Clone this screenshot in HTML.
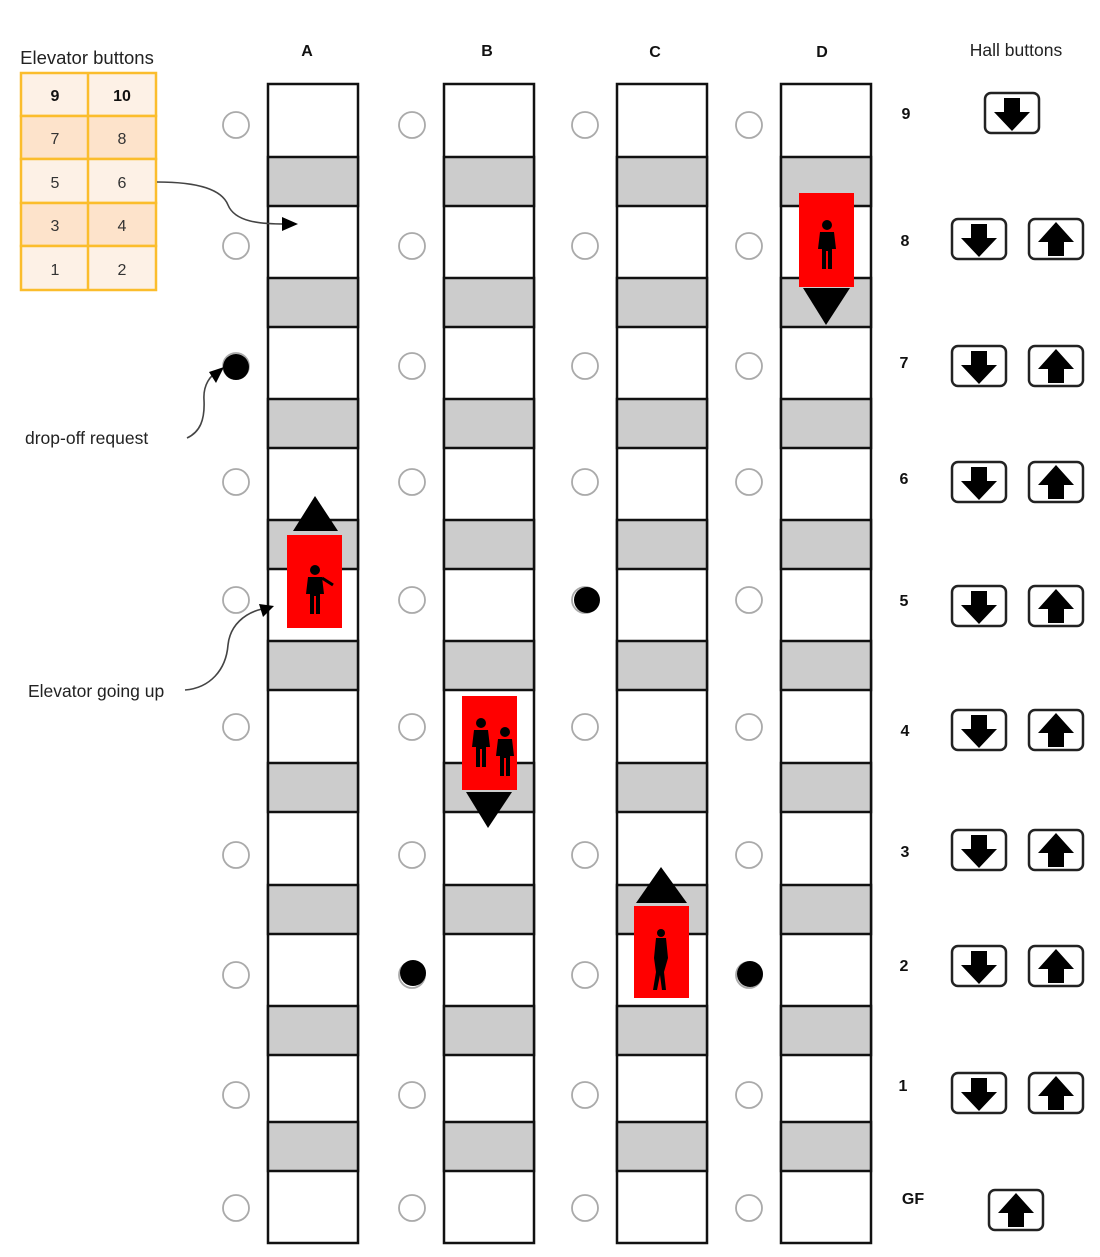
<!DOCTYPE html>
<html><head><meta charset="utf-8"><style>
html,body{margin:0;padding:0;background:#fff;}
svg{display:block;font-family:"Liberation Sans",Arial,sans-serif;}
</style></head><body>
<svg width="1100" height="1257" viewBox="0 0 1100 1257" xmlns="http://www.w3.org/2000/svg">
<defs>
  <g id="shaft">
    <rect x="0" y="84" width="90" height="1159" fill="#fff" stroke="#111" stroke-width="2.5"/>
    <g fill="#cccccc" stroke="#111" stroke-width="2.5">
      <rect x="0" y="157" width="90" height="49"/>
      <rect x="0" y="278" width="90" height="49"/>
      <rect x="0" y="399" width="90" height="49"/>
      <rect x="0" y="520" width="90" height="49"/>
      <rect x="0" y="641" width="90" height="49"/>
      <rect x="0" y="763" width="90" height="49"/>
      <rect x="0" y="885" width="90" height="49"/>
      <rect x="0" y="1006" width="90" height="49"/>
      <rect x="0" y="1122" width="90" height="49"/>
    </g>
  </g>
  <g id="circles" fill="#fff" stroke="#aaa" stroke-width="1.8">
    <circle cx="0" cy="125" r="13"/><circle cx="0" cy="246" r="13"/><circle cx="0" cy="366" r="13"/>
    <circle cx="0" cy="482" r="13"/><circle cx="0" cy="600" r="13"/><circle cx="0" cy="727" r="13"/>
    <circle cx="0" cy="855" r="13"/><circle cx="0" cy="975" r="13"/><circle cx="0" cy="1095" r="13"/>
    <circle cx="0" cy="1208" r="13"/>
  </g>
  <g id="dn">
    <rect x="-27" y="-20" width="54" height="40" rx="6" fill="#fff" stroke="#222" stroke-width="2.5"/>
    <path d="M-8,-15 H8 V-1 H18 L0,18 L-18,-1 H-8 Z" fill="#000"/>
  </g>
  <g id="up">
    <rect x="-27" y="-20" width="54" height="40" rx="6" fill="#fff" stroke="#222" stroke-width="2.5"/>
    <path d="M-8,17 H8 V3 H18 L0,-17 L-18,3 H-8 Z" fill="#000"/>
  </g>
  <g id="person" fill="#000">
    <circle cx="0" cy="-22" r="5"/>
    <path d="M-7,-15 H7 L9,2 H5 V22 H1 V4 H-1 V22 H-5 V2 H-9 Z"/>
  </g>
</defs>

<use href="#shaft" x="268"/>
<use href="#shaft" x="444"/>
<use href="#shaft" x="617"/>
<use href="#shaft" x="781"/>
<use href="#circles" x="236"/>
<use href="#circles" x="412"/>
<use href="#circles" x="585"/>
<use href="#circles" x="749"/>

<g fill="#000">
  <circle cx="236" cy="367" r="13"/>
  <circle cx="587" cy="600" r="13"/>
  <circle cx="413" cy="973" r="13"/>
  <circle cx="750" cy="974" r="13"/>
</g>

<g font-size="16" font-weight="bold" text-anchor="middle" fill="#111">
  <text x="307" y="56">A</text><text x="487" y="56">B</text>
  <text x="655" y="57">C</text><text x="822" y="57">D</text>
</g>
<text x="1016" y="56" font-size="17.5" text-anchor="middle" fill="#222">Hall buttons</text>

<rect x="287" y="535" width="55" height="93" fill="#ff0000"/>
<polygon points="315,496 338,531 293,531" fill="#000"/>
<use href="#person" x="315" y="592"/>
<path d="M322,578 L333,585" stroke="#000" stroke-width="3"/>
<rect x="462" y="696" width="55" height="94" fill="#ff0000"/>
<polygon points="466,792 512,792 488,828" fill="#000"/>
<use href="#person" x="481" y="745"/>
<use href="#person" x="505" y="754"/>
<rect x="634" y="906" width="55" height="92" fill="#ff0000"/>
<polygon points="661,867 687,903 636,903" fill="#000"/>
<g fill="#000"><circle cx="661" cy="933" r="4"/><path d="M656,938 H666 L668,958 L664,972 L666,990 H662 L660,975 L657,990 H653 L656,972 L654,958 Z"/></g>
<rect x="799" y="193" width="55" height="94" fill="#ff0000"/>
<polygon points="803,288 850,288 826,325" fill="#000"/>
<use href="#person" x="827" y="247"/>

<g font-size="16" font-weight="bold" text-anchor="middle" fill="#111">
  <text x="906" y="119">9</text><text x="905" y="246">8</text><text x="904" y="368">7</text>
  <text x="904" y="484">6</text><text x="904" y="606">5</text><text x="905" y="736">4</text>
  <text x="905" y="857">3</text><text x="904" y="971">2</text><text x="903" y="1091">1</text>
  <text x="913" y="1204">GF</text>
</g>

<use href="#dn" x="1012" y="113"/>
<use href="#dn" x="979" y="239"/><use href="#up" x="1056" y="239"/>
<use href="#dn" x="979" y="366"/><use href="#up" x="1056" y="366"/>
<use href="#dn" x="979" y="482"/><use href="#up" x="1056" y="482"/>
<use href="#dn" x="979" y="606"/><use href="#up" x="1056" y="606"/>
<use href="#dn" x="979" y="730"/><use href="#up" x="1056" y="730"/>
<use href="#dn" x="979" y="850"/><use href="#up" x="1056" y="850"/>
<use href="#dn" x="979" y="966"/><use href="#up" x="1056" y="966"/>
<use href="#dn" x="979" y="1093"/><use href="#up" x="1056" y="1093"/>
<use href="#up" x="1016" y="1210"/>

<text x="87" y="64" font-size="18.5" text-anchor="middle" fill="#222">Elevator buttons</text>
<g stroke="#fbbd2c" stroke-width="2.5">
  <rect x="21" y="73" width="135" height="43" fill="#fdf1e6"/>
  <rect x="21" y="116" width="135" height="43" fill="#fde3cb"/>
  <rect x="21" y="159" width="135" height="44" fill="#fdf1e6"/>
  <rect x="21" y="203" width="135" height="43" fill="#fde3cb"/>
  <rect x="21" y="246" width="135" height="44" fill="#fdf1e6"/>
  <line x1="88" y1="73" x2="88" y2="290"/>
</g>
<g font-size="16" text-anchor="middle" fill="#333">
  <text x="55" y="101" font-weight="bold" fill="#111">9</text><text x="122" y="101" font-weight="bold" fill="#111">10</text>
  <text x="55" y="144">7</text><text x="122" y="144">8</text>
  <text x="55" y="188">5</text><text x="122" y="188">6</text>
  <text x="55" y="231">3</text><text x="122" y="231">4</text>
  <text x="55" y="275">1</text><text x="122" y="275">2</text>
</g>

<g fill="none" stroke="#444" stroke-width="1.6">
  <path d="M157,182 C200,182 222,190 228,205 C235,222 260,224 285,224"/>
  <path d="M187,438 C200,432 205,420 204,400 C203,385 210,375 220,370"/>
  <path d="M185,690 C210,688 226,670 228,645 C230,625 245,613 262,609"/>
</g>
<g fill="#000">
  <polygon points="298,224 282,217 282,231"/>
  <polygon points="224,367 209,372 216,383"/>
  <polygon points="274,606 259,604 263,617"/>
</g>

<text x="25" y="444" font-size="17.5" fill="#222">drop-off request</text>
<text x="28" y="697" font-size="17.5" fill="#222">Elevator going up</text>
</svg>
</body></html>
